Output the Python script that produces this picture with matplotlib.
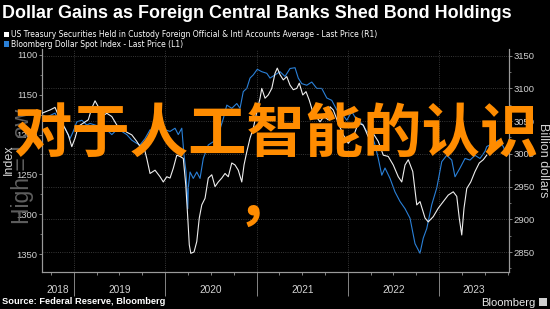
import matplotlib
matplotlib.use("Agg")
import matplotlib.pyplot as plt
import matplotlib.dates as mdates
from matplotlib.ticker import MultipleLocator, NullFormatter
from matplotlib.patches import Rectangle
import pandas as pd

# ---------------- text ----------------
title = "Dollar Gains as Foreign Central Banks Shed Bond Holdings"
legend_labels = [
    "US Treasury Securities Held in Custody Foreign Official & Intl Accounts Average - Last Price (R1)",
    "Bloomberg Dollar Spot Index - Last Price (L1)",
]
left_label = "Index"
right_label = "Billion dollars"
source_text = "Source: Federal Reserve, Bloomberg"
brand_text = "Bloomberg"
overlay_text = "对于人工智能的认识"
overlay_comma = "，"
watermark_text = "High = Low"

left_ticks = [1100, 1150, 1200, 1250, 1300, 1350]
right_ticks = [3150, 3100, 3050, 3000, 2950, 2900, 2850]
years = [2018, 2019, 2020, 2021, 2022, 2023]

# ---------------- data ----------------
dxy_dates = [
    "2018-08-26", "2018-09-14", "2018-10-17", "2018-11-06", "2018-11-26", "2018-12-16", "2018-12-29",
    "2019-01-12", "2019-02-01", "2019-02-21", "2019-03-06", "2019-03-26", "2019-04-15", "2019-05-12",
    "2019-06-01", "2019-06-21", "2019-07-11", "2019-07-31", "2019-08-20", "2019-09-09", "2019-09-22",
    "2019-10-12", "2019-11-01", "2019-11-21", "2019-12-11", "2019-12-31", "2020-01-20", "2020-02-09",
    "2020-02-22", "2020-03-07", "2020-03-16", "2020-03-24", "2020-03-31", "2020-04-02", "2020-04-09",
    "2020-04-22", "2020-05-06", "2020-05-19", "2020-06-01", "2020-06-21", "2020-07-11", "2020-07-31",
    "2020-08-20", "2020-09-03", "2020-09-23", "2020-10-13", "2020-10-26", "2020-11-08", "2020-11-22",
    "2020-12-05", "2020-12-18", "2021-01-03", "2021-01-21", "2021-02-10", "2021-02-23", "2021-03-15",
    "2021-04-04", "2021-04-24", "2021-05-14", "2021-06-03", "2021-06-16", "2021-06-30", "2021-07-20",
    "2021-08-09", "2021-08-29", "2021-09-18", "2021-10-08", "2021-10-28", "2021-11-17", "2021-12-07",
    "2021-12-27", "2022-01-16", "2022-02-05", "2022-02-25", "2022-03-17", "2022-04-06", "2022-04-19",
    "2022-05-02", "2022-05-16", "2022-05-29", "2022-06-18", "2022-07-08", "2022-07-28", "2022-08-17",
    "2022-09-06", "2022-09-26", "2022-10-16", "2022-10-29", "2022-11-12", "2022-12-02", "2022-12-22",
    "2023-01-11", "2023-01-31", "2023-02-20", "2023-03-05", "2023-03-25", "2023-04-14", "2023-05-04",
    "2023-05-24", "2023-06-13", "2023-07-03", "2023-07-10", "2023-08-05", "2023-08-25", "2023-09-14",
    "2023-09-28",
]
dxy_values = [
    1175, 1178, 1173, 1186, 1192, 1205, 1196,
    1184, 1182, 1188, 1186, 1188, 1190, 1194,
    1200, 1194, 1196, 1200, 1207, 1211, 1213,
    1205, 1194, 1196, 1192, 1194, 1196, 1192,
    1200, 1192, 1226, 1247, 1293, 1267, 1247,
    1255, 1247, 1255, 1230, 1213, 1209, 1200,
    1180, 1163, 1167, 1161, 1167, 1146, 1142,
    1129, 1125, 1118, 1121, 1123, 1129, 1125,
    1121, 1127, 1117, 1116, 1129, 1136, 1138,
    1134, 1142, 1142, 1154, 1157, 1169, 1173,
    1182, 1171, 1182, 1186, 1196, 1200, 1213,
    1230, 1251, 1242, 1255, 1272, 1284, 1293,
    1305, 1337, 1349, 1330, 1318, 1288, 1267,
    1234, 1226, 1232, 1253, 1242, 1230, 1232,
    1226, 1230, 1221, 1215, 1211, 1207, 1215,
    1226,
]

ust_dates = [
    "2018-08-26", "2018-09-07", "2018-09-27", "2018-10-17", "2018-10-30", "2018-11-19", "2018-12-09",
    "2018-12-23", "2019-01-05", "2019-01-18", "2019-02-07", "2019-02-27", "2019-03-13", "2019-03-26",
    "2019-04-08", "2019-04-22", "2019-05-12", "2019-06-01", "2019-06-21", "2019-07-11", "2019-07-31",
    "2019-08-20", "2019-09-09", "2019-09-22", "2019-10-05", "2019-10-19", "2019-11-01", "2019-11-21",
    "2019-12-11", "2019-12-24", "2020-01-07", "2020-01-20", "2020-02-02", "2020-02-16", "2020-02-29",
    "2020-03-13", "2020-03-23", "2020-03-31", "2020-04-06", "2020-04-12", "2020-04-25", "2020-05-06",
    "2020-05-16", "2020-05-26", "2020-06-08", "2020-06-21", "2020-07-05", "2020-07-18", "2020-07-31",
    "2020-08-14", "2020-08-27", "2020-09-09", "2020-09-23", "2020-10-06", "2020-10-19", "2020-11-02",
    "2020-11-11", "2020-11-22", "2020-12-05", "2020-12-18", "2021-01-01", "2021-01-14", "2021-01-21",
    "2021-02-03", "2021-02-16", "2021-03-02", "2021-03-15", "2021-03-24", "2021-04-04", "2021-04-17",
    "2021-05-01", "2021-05-14", "2021-05-27", "2021-06-10", "2021-06-20", "2021-07-04", "2021-07-17",
    "2021-07-30", "2021-08-13", "2021-08-26", "2021-09-11", "2021-09-27", "2021-10-14", "2021-10-21",
    "2021-11-03", "2021-11-23", "2021-12-13", "2022-01-02", "2022-01-22", "2022-02-11", "2022-03-03",
    "2022-03-23", "2022-04-12", "2022-05-02", "2022-05-22", "2022-06-11", "2022-07-01", "2022-07-21",
    "2022-08-04", "2022-08-17", "2022-08-30", "2022-09-17", "2022-10-03", "2022-10-16", "2022-11-05",
    "2022-11-18", "2022-12-08", "2022-12-28", "2023-01-17", "2023-02-06", "2023-02-26", "2023-03-12",
    "2023-03-22", "2023-04-01", "2023-04-10", "2023-04-21", "2023-05-07", "2023-05-24", "2023-06-10",
    "2023-06-26", "2023-07-10",
]
ust_values = [
    3062, 3064, 3067, 3071, 3059, 3044, 3029,
    3011, 3024, 3042, 3047, 3052, 3070, 3081,
    3072, 3057, 3062, 3057, 3044, 3039, 3033,
    3029, 3019, 3011, 3014, 2993, 2970, 2975,
    2965, 2957, 2965, 2963, 2978, 2998, 2996,
    2993, 2952, 2902, 2861, 2848, 2850, 2866,
    2902, 2922, 2932, 2963, 2968, 2950, 2957,
    2963, 2970, 2965, 2986, 2983, 2975, 2957,
    2983, 3003, 3024, 3039, 3064, 3085, 3100,
    3085, 3090, 3100, 3123, 3131, 3121, 3113,
    3118, 3105, 3098, 3100, 3108, 3090, 3095,
    3082, 3064, 3057, 3049, 3057, 3052, 3072,
    3067, 3047, 3029, 3016, 3026, 3047, 3044,
    3026, 3031, 3019, 2998, 2996, 2983, 2965,
    2957, 2983, 2991, 2973, 2922, 2927, 2902,
    2896, 2904, 2917, 2927, 2937, 2942, 2935,
    2902, 2876, 2917, 2947, 2957, 2973, 2986,
    2991, 2998,
]

# ---------------- styling ----------------
BG = "#000000"
BLUE = "#2a80d8"
WHITE_LINE = "#eeeeee"
AXIS_GRAY = "#9a9a9a"
TICK_TXT = "#d2d2d2"
GRID = "#4a4a4a"
ORANGE = "#ff8c00"

W, H = 550, 309
fig = plt.figure(figsize=(W / 100, H / 100), dpi=100, facecolor=BG)

ax_l, ax_r, ax_t, ax_b = 42.3, 509.0, 49.0, 271.7
ax = fig.add_axes([ax_l / W, 1 - ax_b / H, (ax_r - ax_l) / W, (ax_b - ax_t) / H])
ax.set_facecolor(BG)
ax2 = ax.twinx()

ax.plot(pd.to_datetime(dxy_dates), dxy_values, color=BLUE, lw=0.8, zorder=3)
ax2.plot(pd.to_datetime(ust_dates), ust_values, color=WHITE_LINE, lw=0.8, zorder=3)

ax.set_xlim(pd.Timestamp("2018-08-27"), pd.Timestamp("2023-10-07"))
ax.set_ylim(1372.2, 1092.5)
ax2.set_ylim(2819.9, 3160.2)

# y axes
ax.set_yticks(left_ticks)
ax.yaxis.set_minor_locator(MultipleLocator(25))
ax2.set_yticks(right_ticks)
ax2.yaxis.set_minor_locator(MultipleLocator(25))
for a in (ax, ax2):
    a.tick_params(axis="y", which="major", color=AXIS_GRAY, labelcolor=TICK_TXT,
                  labelsize=6.8, length=2.5, width=0.6, pad=1)
    a.tick_params(axis="y", which="minor", color=AXIS_GRAY, length=1.5, width=0.5)
    for s in a.spines.values():
        s.set_color(AXIS_GRAY)
        s.set_linewidth(0.8)
    a.spines["top"].set_visible(False)
    for lab in a.get_yticklabels():
        lab.set_family("Liberation Sans")

# x axis: year boundaries as long ticks, quarter minor ticks
year_starts = [pd.Timestamp(f"{y}-01-01") for y in years[1:]]
ax.set_xticks(year_starts)
ax.xaxis.set_major_formatter(NullFormatter())
ax.xaxis.set_minor_locator(mdates.MonthLocator(bymonth=[1, 4, 7, 10]))
ax.tick_params(axis="x", which="major", color=AXIS_GRAY, length=17.5, width=0.6)
ax.tick_params(axis="x", which="minor", color=AXIS_GRAY, length=1.8, width=0.6)
ax2.tick_params(axis="x", which="both", length=0)

ax.grid(axis="x", which="major", color=GRID, ls=":", lw=0.6)
ax2.grid(axis="y", which="major", color=GRID, ls=":", lw=0.6)
ax.set_axisbelow(True)
ax2.set_axisbelow(True)

x0, x1 = ax.get_xlim()
for y in years:
    s = max(mdates.date2num(pd.Timestamp(f"{y}-01-01")), x0)
    e = min(mdates.date2num(pd.Timestamp(f"{y + 1}-01-01")), x1)
    ax.text((s + e) / 2, -(290 - ax_b) / (ax_b - ax_t), str(y), transform=ax.get_xaxis_transform(),
            ha="center", va="center", fontsize=7.3, color=TICK_TXT, family="Liberation Sans")

# ---------------- figure texts ----------------
renderer = fig.canvas.get_renderer()


def fit(t, target):
    for _ in range(3):
        w = t.get_window_extent(renderer).width
        t.set_fontsize(t.get_fontsize() * target / w)


def fy(px):
    return 1 - px / H


t_title = fig.text(2 / W, fy(17.5), title, color="white", fontsize=12, weight="bold",
                   family="Liberation Sans", ha="left", va="baseline")
fit(t_title, 510)

sq = [(4, 31.6, "#ffffff"), (4, 41.4, BLUE)]
for (sx, sy, c) in sq:
    fig.patches.append(Rectangle((sx / W, fy(sy + 5.2)), 5.4 / W, 5.2 / H, transform=fig.transFigure,
                                 facecolor=c, edgecolor="none"))
t_l1 = fig.text(11 / W, fy(37), legend_labels[0], color="white", fontsize=6.5,
                family="Liberation Sans Narrow", ha="left", va="baseline")
fit(t_l1, 369)
t_l2 = fig.text(11 / W, fy(46.6), legend_labels[1], color="white", fontsize=t_l1.get_fontsize(),
                family="Liberation Sans Narrow", ha="left", va="baseline")

# watermark (behind labels)
fig.text(23 / W, fy(166), watermark_text, rotation=90, color="#5e5e5e", fontsize=16.5,
         family="Liberation Sans", ha="center", va="center", zorder=0)

fig.text(8.5 / W, fy(160), left_label, rotation=90, color=TICK_TXT, fontsize=9,
         family="Liberation Sans", ha="center", va="center")
fig.text(542.5 / W, fy(160.5), right_label, rotation=-90, color=TICK_TXT, fontsize=9,
         family="Liberation Sans", ha="center", va="center")

t_src = fig.text(2 / W, fy(304.3), source_text, color="white", fontsize=6, weight="bold",
                 family="Liberation Sans", ha="left", va="baseline")
fit(t_src, 163)
t_br = fig.text(535 / W, fy(305.7), brand_text, color="#e8e8e8", fontsize=8,
                family="Liberation Sans", ha="right", va="baseline")
fit(t_br, 55)
fig.patches.append(Rectangle((538.5 / W, fy(305.5)), 8 / W, 8 / H, transform=fig.transFigure,
                             facecolor="#cfcfcf", edgecolor="none"))

# overlay CJK text
fig.text(276 / W, fy(136), overlay_text, color=ORANGE, fontsize=42, weight="bold",
         family=["Noto Sans CJK SC", "DejaVu Sans"], ha="center", va="center", zorder=10)
fig.text(266 / W, fy(202), overlay_comma, color=ORANGE, fontsize=42, weight="bold",
         family=["Noto Sans CJK SC", "DejaVu Sans"], ha="center", va="center", zorder=10)

fig.savefig("out.png", dpi=100, facecolor=BG)
